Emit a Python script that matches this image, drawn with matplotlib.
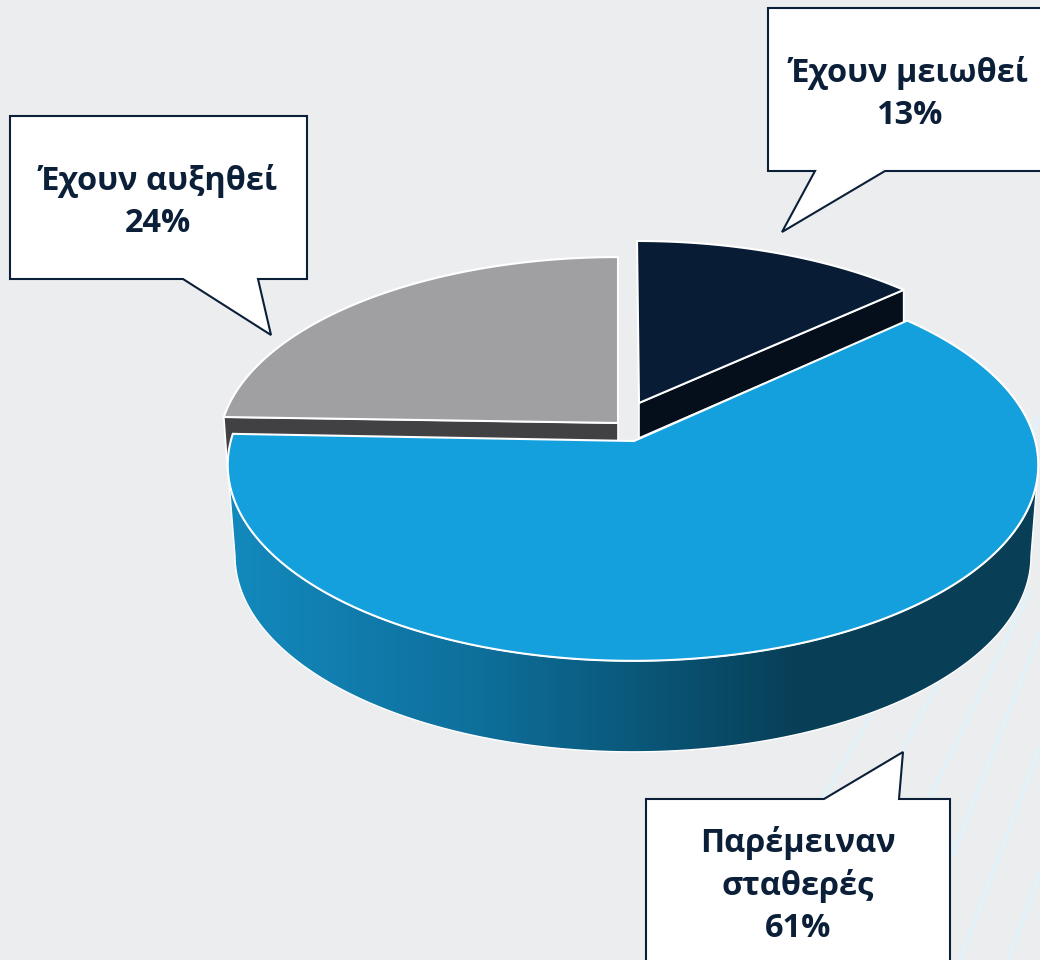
# Perspective pie chart with callouts, drawn in pixel coordinates
import numpy as np
import matplotlib
matplotlib.use('Agg')
import matplotlib.pyplot as plt
from matplotlib.colors import LinearSegmentedColormap
from matplotlib.patches import Polygon

# Data
labels = ['Έχουν μειωθεί', 'Παρέμειναν\nσταθερές', 'Έχουν αυξηθεί']
values = [13, 61, 24]

# Colours
bg_color = '#ebedef'
text_color = '#0b2038'
top_colors = ['#081d35', '#14a0dc', '#a0a0a2']
side_colors = ['#040f1b', None, '#414042']
stripe_color = '#e3f1f8'

plt.rcParams['font.family'] = ['Open Sans', 'DejaVu Sans']

# Slice placement: apex, arc centre x, horizontal and vertical radius
apexes = [(639, 403), (634, 441), (618, 423)]
arc_x = [637, 633, 618]
arc_y = [403, 440, 423]
radius_x = [391, 402, 396]
radius_y = [182.6, 192.8, 187]
tilt = 0.127    # perspective strength
depth = 91

# Start and end angle of each slice, clockwise from the top
edges = np.cumsum([0] + values) / sum(values) * 2 * np.pi


def project(t, cx, cy, rx, ry, rim=0.0):
    # Circle point at angle t seen in perspective
    u, v = np.sin(t), np.cos(t)
    w = 1 + tilt * v
    return np.column_stack((cx + rx * u / w, cy - ry * v / w + rim))


fig = plt.figure(figsize=(10.4, 9.6), dpi=100, facecolor=bg_color)
ax = fig.add_axes([0, 0, 1, 1])
ax.set_facecolor(bg_color)
ax.axis('off')

# Faint diagonal stripes in the background
stripes = [(823, 798, 873, 712), (902, 750, 940, 680), (930, 797, 1030, 590),
           (952, 857, 1040, 632), (960, 960, 1040, 747), (1008, 960, 1040, 873),
           (1028, 445, 1040, 415)]
for x0, y0, x1, y1 in stripes:
    ax.plot([x0, x1], [y0, y1], color=stripe_color, lw=3, zorder=1, solid_capstyle='butt')

# Side of the two small slices, mostly hidden by the big one
dark_end = project(edges[1], arc_x[0], arc_y[0], radius_x[0], radius_y[0])[0]
ax.add_patch(Polygon([apexes[0], dark_end, (dark_end[0], dark_end[1] + 33), (apexes[0][0], 438)],
                     fc=side_colors[0], ec='white', lw=1.2, zorder=2))
gray_start = project(edges[2], arc_x[2], arc_y[2], radius_x[2], radius_y[2])[0]
ax.add_patch(Polygon([gray_start, apexes[2], (apexes[2][0], 441), (232, 445), (228, 475)],
                     fc=side_colors[2], ec='white', lw=1.2, zorder=2))

# Side of the big slice, between the top rim and the bottom rim
t_side = np.linspace(np.radians(97.3), np.radians(262.7), 200)
rim_top = project(t_side, arc_x[1], arc_y[1], radius_x[1], radius_y[1])
rim_low = project(t_side, arc_x[1], arc_y[1], radius_x[1] * 0.982, radius_y[1], rim=depth)
side = Polygon(np.vstack((rim_top, rim_low[::-1])), fc='none', ec='white', lw=1, zorder=3)
ax.add_patch(side)
cmap = LinearSegmentedColormap.from_list('side', [(0.0, '#1389bd'), (0.31, '#0e6f9b'),
                                                  (0.5, '#0a587a'), (0.7, '#083f57'),
                                                  (1.0, '#083f57')])
shade = ax.imshow(np.linspace(0, 1, 512).reshape(1, -1), cmap=cmap, extent=(230, 1040, 760, 460),
                  aspect='auto', zorder=2.9)
shade.set_clip_path(side)

# Top face of each slice
for i in range(len(values)):
    t = np.linspace(edges[i], edges[i + 1], 200)
    arc = project(t, arc_x[i], arc_y[i], radius_x[i], radius_y[i])
    ax.add_patch(Polygon(np.vstack(([apexes[i]], arc)), fc=top_colors[i], ec='white', lw=1.5,
                         joinstyle='miter', zorder=4))

# Callouts: box corners and tail, then text centre
boxes = [
    [(768, 8), (1060, 8), (1060, 171), (885, 171), (782, 232), (815, 171), (768, 171)],
    [(646, 799), (824, 799), (903, 752), (899, 799), (950, 799), (950, 980), (646, 980)],
    [(10, 116), (307, 116), (307, 279), (258, 279), (271, 335), (183, 279), (10, 279)],
]
text_pos = [(909, 94.5), (798, 885.5), (158, 202.5)]
for box, pos, label, value in zip(boxes, text_pos, labels, values):
    ax.add_patch(Polygon(box, fc='white', ec=text_color, lw=1.5, joinstyle='miter', zorder=5))
    ax.text(pos[0], pos[1], f'{label}\n{value}%', ha='center', va='center', color=text_color,
            fontsize=23.4, fontweight='bold', linespacing=1.36, zorder=6)

ax.set_xlim(0, 1040)
ax.set_ylim(960, 0)
fig.savefig('out.png', dpi=100, facecolor=bg_color)
